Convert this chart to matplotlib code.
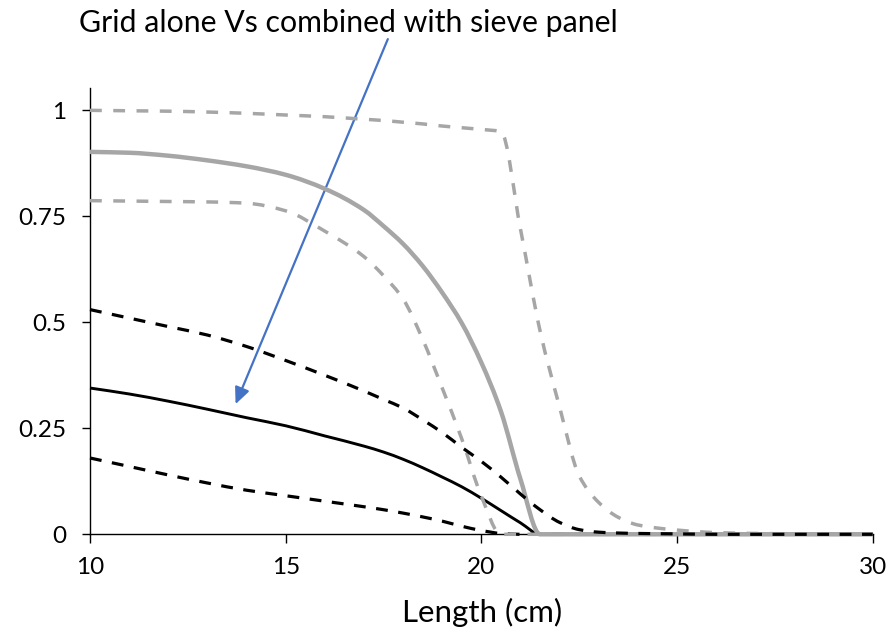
import matplotlib
matplotlib.use("Agg")
import matplotlib.pyplot as plt
from matplotlib.path import Path
from matplotlib.patches import PathPatch, Rectangle

plt.rcParams['font.family'] = ['Lato', 'DejaVu Sans']

# Length classes (cm)
length_cm = [10, 11, 12, 13, 14, 15, 16, 17, 17.5, 18, 18.5, 19, 19.5, 20, 20.5,
             21, 21.5, 22, 22.5, 23, 23.5, 24, 25, 26, 27, 28, 29, 30]

# Grid alone: estimate with upper / lower bounds
grid_upper = [1.0, 0.999, 0.998, 0.996, 0.993, 0.989, 0.985, 0.979, 0.976, 0.972, 0.968,
              0.963, 0.959, 0.955, 0.950, 0.72, 0.48, 0.30, 0.138, 0.075, 0.040, 0.022,
              0.010, 0.004, 0.002, 0.001, 0.0, 0.0]
grid_mean = [0.902, 0.900, 0.893, 0.882, 0.868, 0.848, 0.815, 0.765, 0.727, 0.685, 0.633,
             0.570, 0.498, 0.405, 0.29, 0.13, 0.0, 0.0, 0.0, 0.0, 0.0, 0.0,
             0.0, 0.0, 0.0, 0.0, 0.0, 0.0]
grid_lower = [0.787, 0.786, 0.785, 0.784, 0.781, 0.763, 0.715, 0.655, 0.61, 0.555, 0.46,
              0.345, 0.225, 0.09, 0.0, 0.0, 0.0, 0.0, 0.0, 0.0, 0.0, 0.0,
              0.0, 0.0, 0.0, 0.0, 0.0, 0.0]

# Grid combined with sieve panel: estimate with upper / lower bounds
sieve_upper = [0.53, 0.51, 0.49, 0.47, 0.443, 0.41, 0.375, 0.338, 0.318, 0.298, 0.27,
               0.24, 0.205, 0.172, 0.135, 0.095, 0.058, 0.028, 0.011, 0.005, 0.003, 0.002,
               0.001, 0.0, 0.0, 0.0, 0.0, 0.0]
sieve_mean = [0.345, 0.331, 0.314, 0.295, 0.275, 0.256, 0.232, 0.208, 0.194, 0.177, 0.157,
              0.135, 0.112, 0.085, 0.056, 0.027, 0.0, 0.0, 0.0, 0.0, 0.0, 0.0,
              0.0, 0.0, 0.0, 0.0, 0.0, 0.0]
sieve_lower = [0.18, 0.160, 0.140, 0.121, 0.104, 0.091, 0.078, 0.065, 0.058, 0.050, 0.041,
               0.031, 0.019, 0.009, 0.002, 0.0, 0.0, 0.0, 0.0, 0.0, 0.0, 0.0,
               0.0, 0.0, 0.0, 0.0, 0.0, 0.0]

x_ticks = [10, 15, 20, 25, 30]
y_ticks = [0, 0.25, 0.5, 0.75, 1]
y_tick_labels = ['0', '0.25', '0.5', '0.75', '1']

title_text = 'Grid alone Vs combined with sieve panel'
x_label = 'Length (cm)'

GRAY = '#A6A6A6'


def smooth_path(xs, ys):
    """Monotone cubic Bezier path through the points (smoothed line without overshoot)."""
    n = len(xs)
    h = [xs[i + 1] - xs[i] for i in range(n - 1)]
    d = [(ys[i + 1] - ys[i]) / h[i] for i in range(n - 1)]
    m = [0.0] * n
    m[0], m[-1] = d[0], d[-1]
    for i in range(1, n - 1):
        if d[i - 1] * d[i] <= 0:
            m[i] = 0.0
        else:
            w1 = 2 * h[i] + h[i - 1]
            w2 = h[i] + 2 * h[i - 1]
            m[i] = (w1 + w2) / (w1 / d[i - 1] + w2 / d[i])
    verts = [(xs[0], ys[0])]
    codes = [Path.MOVETO]
    for i in range(n - 1):
        t = h[i] / 3.0
        verts += [(xs[i] + t, ys[i] + m[i] * t),
                  (xs[i + 1] - t, ys[i + 1] - m[i + 1] * t),
                  (xs[i + 1], ys[i + 1])]
        codes += [Path.CURVE4] * 3
    return Path(verts, codes)


fig = plt.figure(figsize=(8.94, 6.33), dpi=100)
ax = fig.add_axes([90 / 894, 1 - 534.3 / 633, (872.7 - 90) / 894, (534.3 - 88.3) / 633])

ax.set_xlim(10, 30)
ax.set_ylim(0, 1.052)

# lines sitting on the zero line keep their full width
clip_rect = Rectangle((-0.01, -0.006), 1.02, 1.2, transform=ax.transAxes,
                      facecolor='none', edgecolor='none')


def draw_series(ys, color, lw, dashes=None, z=3):
    ls = (0, dashes) if dashes else '-'
    patch = PathPatch(smooth_path(length_cm, ys), facecolor='none', edgecolor=color,
                      lw=lw, linestyle=ls, capstyle='butt', joinstyle='round',
                      transform=ax.transData, zorder=z)
    ax.add_patch(patch)
    patch.set_clip_path(clip_rect)


black_dash = (3.7, 3.3)
gray_dash = (3.4, 3.3)

draw_series(sieve_lower, 'black', 2.3, black_dash, 3)
draw_series(sieve_mean, 'black', 2.1, None, 3)
draw_series(grid_lower, GRAY, 2.5, gray_dash, 4)
draw_series(grid_upper, GRAY, 2.5, gray_dash, 4)
draw_series(grid_mean, GRAY, 3.2, None, 4)
draw_series(sieve_upper, 'black', 2.3, black_dash, 5)

ax.set_xticks(x_ticks)
ax.set_xticklabels([str(v) for v in x_ticks])
ax.set_yticks(y_ticks)
ax.set_yticklabels(y_tick_labels)

for side in ('top', 'right'):
    ax.spines[side].set_visible(False)
for side in ('left', 'bottom'):
    ax.spines[side].set_linewidth(1.0)
    ax.spines[side].set_zorder(1)

ax.tick_params(axis='both', direction='out', width=1.0, labelsize=17.5, colors='black')
ax.tick_params(axis='x', length=6.5, pad=10)
ax.tick_params(axis='y', length=6, pad=11)

# Title and axis label
fig.text(348 / 894, 1 - 32 / 633, title_text, ha='center', va='baseline', fontsize=21.8)
fig.text(481.7 / 894, 1 - 621.7 / 633, x_label, ha='center', va='baseline', fontsize=22.5)

# Pointer to the combined (sieve panel) curve
ax.annotate('', xy=(13.72, 0.307), xytext=(17.61, 1.168), xycoords='data', textcoords='data',
            annotation_clip=False,
            arrowprops=dict(arrowstyle='-|>,head_length=1.0,head_width=0.45', mutation_scale=10,
                            color='#4472C4', lw=1.6, shrinkA=0, shrinkB=0))

fig.savefig('out.png', dpi=100)
